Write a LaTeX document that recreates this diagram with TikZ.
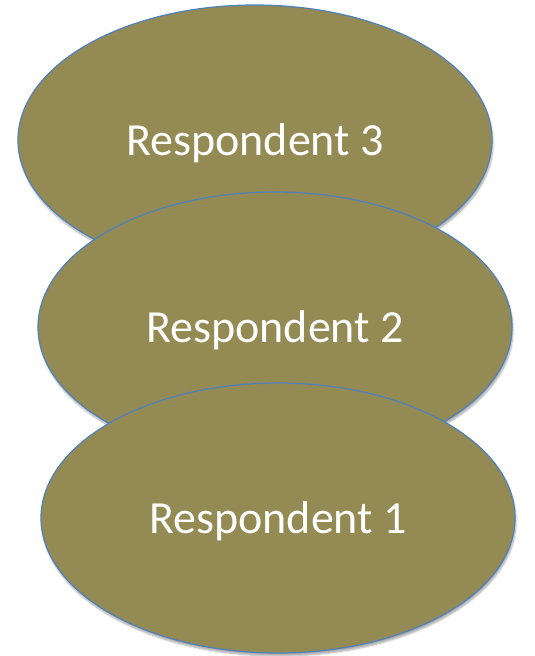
\documentclass[tikz,border=0pt]{standalone}
\usepackage{fontspec}
\setmainfont{Carlito}
\usetikzlibrary{shapes.geometric,shadows.blur}

\definecolor{olivefill}{RGB}{148,138,84}
\definecolor{ringblue}{RGB}{79,129,189}

\tikzset{every picture/.style={line width=1.2pt}}
\tikzset{respondent/.style={ellipse,draw=ringblue,fill=olivefill,text=white,
  minimum width=474pt,minimum height=270pt,inner sep=0pt,text depth=0pt,
  font=\fontsize{46}{55}\selectfont,
  blur shadow={shadow xshift=1pt,shadow yshift=-3pt,shadow opacity=35,shadow blur steps=6}}}

\begin{document}
\begin{tikzpicture}[x=1pt,y=1pt,yscale=-1,xscale=1]
%set diagram size to 535 x 656
\useasboundingbox (0,0) rectangle (535,656);

%Shape: Ellipse, top
\node [respondent] (resp3) at (255,140) {Respondent 3};
%Shape: Ellipse, middle
\node [respondent] (resp2) at (275,327) {Respondent 2};
%Shape: Ellipse, bottom
\node [respondent] (resp1) at (278,518) {Respondent 1};

\end{tikzpicture}
\end{document}
